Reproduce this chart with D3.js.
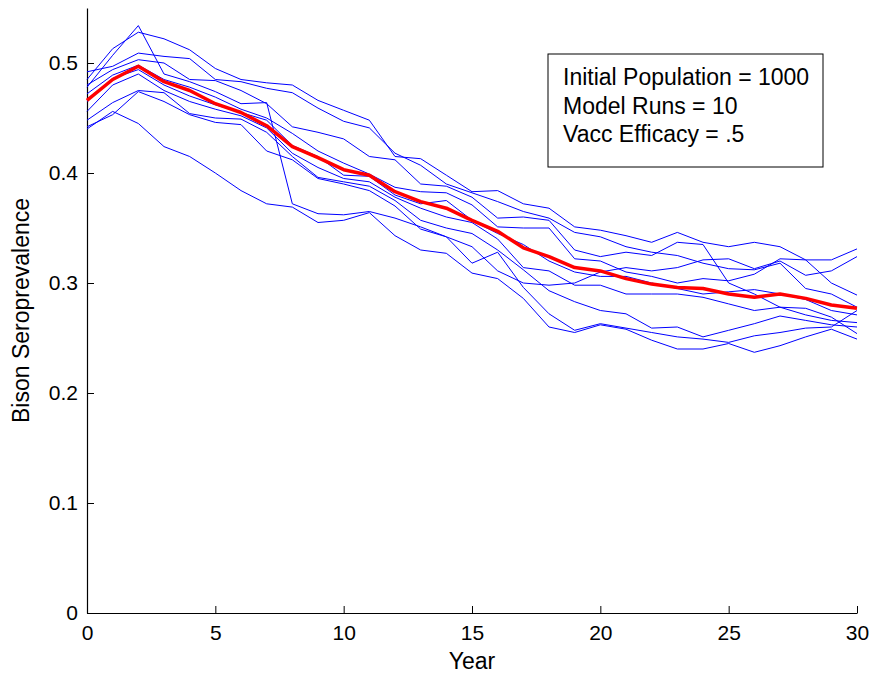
<!DOCTYPE html>
<html lang="en">
<head>
    <meta charset="UTF-8">
    <title>Bison Seroprevalence</title>
    <script src="https://d3js.org/d3.v7.min.js"></script>
    <style>
        body { margin: 0; background: #fff; }
        text { font-family: "Liberation Sans", Arial, Helvetica, sans-serif; fill: #000; }
    </style>
</head>
<body>
    <div id="chart"></div>
    <script>
        // Data (years 0..30)
        const years = d3.range(0, 31);

        const runs = [
            [0.485,0.513,0.528,0.522,0.512,0.495,0.485,0.482,0.480,0.466,0.457,0.448,0.415,0.413,0.398,0.383,0.384,0.372,0.368,0.351,0.348,0.343,0.337,0.346,0.337,0.333,0.337,0.333,0.321,0.321,0.331],
            [0.478,0.507,0.534,0.490,0.483,0.474,0.463,0.464,0.372,0.363,0.362,0.365,0.359,0.351,0.342,0.333,0.311,0.300,0.298,0.300,0.310,0.314,0.311,0.314,0.321,0.322,0.313,0.320,0.307,0.311,0.324],
            [0.492,0.497,0.509,0.506,0.504,0.485,0.483,0.477,0.473,0.459,0.447,0.441,0.418,0.407,0.390,0.382,0.374,0.365,0.359,0.346,0.342,0.333,0.328,0.325,0.318,0.313,0.312,0.318,0.295,0.290,0.278],
            [0.480,0.494,0.503,0.500,0.485,0.484,0.475,0.463,0.442,0.437,0.431,0.415,0.412,0.390,0.388,0.378,0.359,0.360,0.357,0.330,0.324,0.328,0.325,0.337,0.335,0.300,0.290,0.278,0.277,0.269,0.254],
            [0.472,0.489,0.498,0.485,0.478,0.469,0.458,0.450,0.436,0.420,0.409,0.399,0.387,0.383,0.382,0.371,0.351,0.350,0.350,0.322,0.320,0.310,0.306,0.300,0.304,0.302,0.308,0.322,0.321,0.300,0.289],
            [0.465,0.486,0.494,0.480,0.470,0.462,0.455,0.448,0.425,0.415,0.398,0.397,0.380,0.372,0.375,0.357,0.345,0.335,0.320,0.310,0.306,0.306,0.300,0.295,0.290,0.292,0.294,0.290,0.285,0.275,0.271],
            [0.456,0.480,0.490,0.475,0.465,0.458,0.452,0.441,0.418,0.405,0.395,0.392,0.378,0.368,0.360,0.355,0.340,0.314,0.311,0.298,0.298,0.290,0.290,0.290,0.287,0.281,0.275,0.278,0.271,0.266,0.264],
            [0.448,0.464,0.475,0.473,0.454,0.450,0.449,0.437,0.415,0.396,0.392,0.388,0.375,0.357,0.350,0.345,0.330,0.312,0.293,0.283,0.275,0.272,0.259,0.260,0.251,0.257,0.263,0.270,0.266,0.262,0.260],
            [0.442,0.453,0.474,0.465,0.453,0.446,0.444,0.420,0.412,0.395,0.390,0.384,0.370,0.349,0.342,0.318,0.328,0.296,0.272,0.257,0.263,0.259,0.255,0.251,0.249,0.246,0.252,0.255,0.259,0.260,0.275],
            [0.440,0.456,0.445,0.424,0.415,0.400,0.384,0.372,0.369,0.355,0.357,0.364,0.343,0.330,0.327,0.309,0.304,0.286,0.260,0.255,0.262,0.258,0.248,0.240,0.240,0.245,0.237,0.243,0.251,0.258,0.249]
        ];

        const meanRun = [0.466,0.485,0.497,0.483,0.475,0.463,0.455,0.443,0.424,0.414,0.403,0.398,0.383,0.374,0.368,0.357,0.347,0.332,0.324,0.314,0.311,0.304,0.299,0.296,0.295,0.290,0.287,0.290,0.286,0.280,0.277];

        const xTicks = [0, 5, 10, 15, 20, 25, 30];
        const yTicks = [0, 0.1, 0.2, 0.3, 0.4, 0.5];
        const infoLines = ["Initial Population = 1000", "Model Runs = 10", "Vacc Efficacy = .5"];

        // Set up the SVG
        const width = 871;
        const height = 677;
        const margin = { top: 8, right: 14, bottom: 64, left: 87 };
        const innerW = width - margin.left - margin.right;
        const innerH = height - margin.top - margin.bottom;

        const svg = d3.select("#chart")
            .append("svg")
            .attr("width", width)
            .attr("height", height);

        const plot = svg.append("g")
            .attr("transform", `translate(${margin.left},${margin.top})`);

        const xScale = d3.scaleLinear().domain([0, 30]).range([0, innerW]);
        const yScale = d3.scaleLinear().domain([0, 0.55]).range([innerH, 0]);

        // Axes, MATLAB style: ticks point inward
        const xAxis = plot.append("g")
            .attr("transform", `translate(0,${innerH})`)
            .call(d3.axisBottom(xScale).tickValues(xTicks).tickFormat(d3.format("d"))
                .tickSizeInner(-7).tickSizeOuter(0).tickPadding(12));

        const yAxis = plot.append("g")
            .call(d3.axisLeft(yScale).tickValues(yTicks).tickFormat(d => d === 0 ? "0" : d3.format(".1f")(d))
                .tickSizeInner(-7).tickSizeOuter(0).tickPadding(9));

        [xAxis, yAxis].forEach(ax => {
            ax.select(".domain").attr("stroke", "#000").attr("stroke-width", 1.2);
            ax.selectAll(".tick line").attr("stroke", "#000");
            ax.selectAll(".tick text").style("font-size", "21px").attr("fill", "#000");
        });

        // Individual runs
        const line = d3.line()
            .x((d, i) => xScale(years[i]))
            .y(d => yScale(d));

        plot.selectAll(".run")
            .data(runs)
            .enter()
            .append("path")
            .attr("class", "run")
            .attr("d", line)
            .attr("fill", "none")
            .attr("stroke", "#0000ff")
            .attr("stroke-width", 1);

        // Mean line
        plot.append("path")
            .attr("d", line(meanRun))
            .attr("fill", "none")
            .attr("stroke", "#ff0000")
            .attr("stroke-width", 3.5)
            .attr("stroke-linejoin", "round");

        // Info box
        const box = svg.append("g").attr("transform", "translate(548,54)");
        box.append("rect")
            .attr("width", 275)
            .attr("height", 113)
            .attr("fill", "#fff")
            .attr("stroke", "#000")
            .attr("stroke-width", 1);
        box.selectAll("text")
            .data(infoLines)
            .enter()
            .append("text")
            .attr("x", 15)
            .attr("y", (d, i) => 31 + i * 28.5)
            .style("font-size", "23px")
            .text(d => d);

        // Axis labels
        svg.append("text")
            .attr("x", margin.left + innerW / 2)
            .attr("y", 669)
            .attr("text-anchor", "middle")
            .style("font-size", "23px")
            .text("Year");

        svg.append("text")
            .attr("transform", `translate(29,${margin.top + innerH / 2}) rotate(-90)`)
            .attr("text-anchor", "middle")
            .style("font-size", "23px")
            .text("Bison Seroprevalence");
    </script>
</body>
</html>
